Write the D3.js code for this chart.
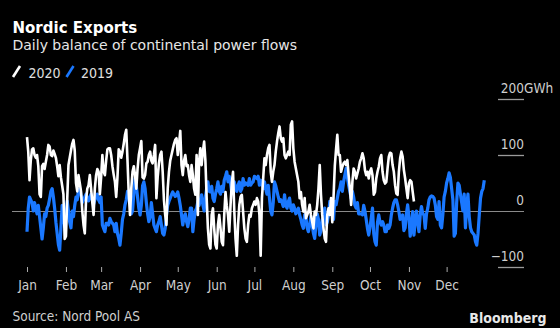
<!DOCTYPE html>
<html><head><meta charset="utf-8">
<script src="https://cdn.jsdelivr.net/npm/d3@7"></script>
<style>
html,body{margin:0;padding:0;background:#000;}
svg{display:block;}
</style></head><body>
<svg id="chart" width="560" height="328"></svg>
<script>
const titleText = "Nordic Exports";
const subtitleText = "Daily balance of continental power flows";
const seriesNames = ["2020", "2019"];
const monthLabels = ["Jan","Feb","Mar","Apr","May","Jun","Jul","Aug","Sep","Oct","Nov","Dec"];
const yTickValues = [-100, 0, 100, 200];
const yUnit = "GWh";
const sourceText = "Source: Nord Pool AS";
const brandText = "Bloomberg";

const values2019 = [
-37,5,25,20,15,0,15,5,-5,10,
-10,-30,-50,-30,-5,-10,5,10,22,35,
40,25,5,-20,-40,-60,-70,-30,10,-5,
-28,-10,18,0,-20,-30,0,-10,10,25,
20,38,40,28,15,20,25,30,22,18,
25,30,20,12,20,25,30,20,15,25,
-25,-31,-37,-22,-22,-25,-13,-19,-22,-25,
-37,-22,-40,-49,-61,-40,-15,-5,11,20,
35,30,23,-5,0,30,58,45,25,5,
-7,10,45,52,40,15,-5,-19,-10,15,
-5,-25,-31,-37,-25,-19,-10,-25,-40,-43,
-31,-7,10,17,23,29,34,30,26,29,
34,23,10,-7,-25,-10,-5,-19,-28,-15,
5,5,-37,-15,0,5,17,10,20,29,
11,0,25,40,52,35,34,44,23,17,
30,40,52,35,30,44,35,55,62,70,
52,62,50,32,40,52,40,35,46,52,
35,40,58,46,50,48,46,58,46,50,
52,62,60,58,62,46,55,50,40,52,
40,30,46,23,0,-7,15,52,45,35,
25,17,20,15,8,29,10,5,17,23,
5,0,11,5,-5,0,5,-7,-15,-25,
-31,-7,-10,-30,-37,-25,-10,-25,-40,-49,
-25,-5,-15,-43,-35,-15,-10,5,-25,-20,
-7,17,10,-5,-15,17,11,23,35,40,
52,35,52,64,76,60,46,35,23,35,
25,10,5,15,-5,-5,-5,-7,10,0,
-15,-31,-43,-30,-13,5,-40,-55,-61,-20,
-7,-20,-25,-19,-25,-37,-37,-25,-31,-25,
-7,5,15,20,20,11,-1,-15,-13,-7,
-35,-30,-5,11,-10,-45,-31,-1,-43,-20,
0,-20,-37,-7,8,-5,-7,-31,-5,5,
20,25,27,26,23,11,-10,-15,17,-25,
-30,-7,25,35,50,58,68,60,40,20,
-45,-40,15,50,46,30,15,0,30,-30,
10,30,-10,-30,-37,-40,-43,-55,-61,-40,
-7,23,35,40,55
];

const values2020 = [
132,106,55,90,110,112,100,95,100,80,
30,25,80,84,75,88,100,118,115,100,
98,108,102,95,80,62,82,60,45,30,
-50,-45,20,82,95,108,120,127,108,50,
35,64,50,35,0,-25,-40,20,40,46,
64,40,15,-7,40,64,75,70,30,60,
100,70,64,90,110,112,112,100,80,65,
52,25,60,110,106,95,106,120,136,145,
90,30,-7,40,70,80,64,40,75,100,
112,125,60,58,64,85,88,100,106,90,
85,100,118,23,60,85,100,106,70,20,
-7,-25,40,70,90,100,110,120,127,130,
100,120,143,82,64,90,100,80,82,64,
52,82,64,40,29,100,-7,90,112,82,
106,124,90,23,-31,-60,-67,-7,5,-31,
-60,-67,-25,-7,-30,-55,-61,-7,34,10,
-7,-37,10,50,70,0,-50,-80,-25,11,
25,29,-1,-31,-49,-55,-25,-7,-10,5,
11,17,11,23,17,-7,-80,23,58,94,
82,100,112,118,70,52,70,82,106,124,
139,151,130,124,130,100,94,100,106,100,
154,160,112,88,76,64,52,23,34,11,
-1,23,-13,-7,-1,11,-7,-19,-31,-1,
-7,11,40,82,29,-7,-31,-49,-55,-7,
5,-7,23,-20,25,80,110,136,100,100,
70,79,85,88,82,91,64,40,11,52,
76,70,58,67,76,88,94,103,94,73,
64,70,58,70,76,64,29,34,58,70,
79,94,100,70,55,49,52,76,97,104,
103,82,70,46,31,29,70,94,106,97,
73,58,40,23,49,55,52,34,17
];

const seriesColors = {"2020": "#ffffff", "2019": "#1a78ff"};
const narrow = "'Liberation Sans Narrow','DejaVu Sans Condensed','Arial Narrow',sans-serif";

const svg = d3.select("#chart");
svg.append("rect").attr("width", 560).attr("height", 328).attr("fill", "#000");

const dayDate = i => d3.timeDay.offset(new Date(2019, 0, 1), i);
const x = d3.scaleTime().domain([new Date(2019, 0, 1), new Date(2019, 11, 31)]).range([27, 484.3]);
const y = d3.scaleLinear().domain([-100, 200]).range([267, 99]);

// Title
svg.append("text").attr("x", 12.5).attr("y", 32.5)
  .attr("font-family", "'DejaVu Sans',sans-serif").attr("font-weight", "bold")
  .attr("font-size", 15).attr("fill", "#fff").text(titleText);
svg.append("text").attr("x", 12.5).attr("y", 50)
  .attr("font-family", "'DejaVu Sans',sans-serif")
  .attr("font-size", 14).attr("fill", "#e6e6e6").text(subtitleText);

// Legend
const legendPos = [{sx: 13, tx: 28.5}, {sx: 66.5, tx: 81}];
seriesNames.forEach((name, i) => {
  const p = legendPos[i];
  svg.append("line").attr("x1", p.sx).attr("y1", 77).attr("x2", p.sx + 7).attr("y2", 66)
    .attr("stroke", seriesColors[name]).attr("stroke-width", 2.6).attr("stroke-linecap", "butt");
  svg.append("text").attr("x", p.tx).attr("y", 77.5)
    .attr("font-family", narrow).attr("font-size", 14).attr("fill", "#e0e0e0").text(name);
});

// Y axis (right-aligned labels above short gridlines)
const yAxisG = svg.append("g").attr("transform", "translate(524,0)")
  .call(d3.axisLeft(y).tickValues(yTickValues).tickSize(0).tickFormat(d3.format("d")));
yAxisG.select(".domain").remove();
yAxisG.selectAll(".tick line")
  .attr("x1", d => d === 0 ? 12 - 524 : -26).attr("x2", 0)
  .attr("stroke", d => d === 0 ? "#8a8a8a" : "#9a9a9a")
  .attr("stroke-width", d => d === 0 ? 1 : 1.3);
yAxisG.selectAll(".tick text")
  .attr("x", 0).attr("dy", 0).attr("y", -7)
  .attr("text-anchor", "end")
  .attr("font-family", narrow).attr("font-size", 13.5).attr("fill", "#cfcfcf");
yAxisG.selectAll(".tick").filter(d => d === 200).append("text")
  .attr("x", 0).attr("y", -7).attr("text-anchor", "start")
  .attr("font-family", narrow).attr("font-size", 13.5).attr("fill", "#cfcfcf").text(yUnit);

// X axis
const monthDates = d3.range(12).map(m => new Date(2019, m, 1));
const xAxisG = svg.append("g").attr("transform", "translate(0,267)")
  .call(d3.axisBottom(x).tickValues(monthDates).tickSize(5).tickFormat((d, i) => monthLabels[i]));
xAxisG.select(".domain").remove();
xAxisG.selectAll(".tick line").attr("stroke", "#aaaaaa").attr("stroke-width", 1);
xAxisG.selectAll(".tick text").attr("y", 23).attr("dy", 0)
  .attr("font-family", narrow).attr("font-size", 13.5).attr("fill", "#cfcfcf");

// Lines: 2019 below, 2020 on top
const line = d3.line().x((d, i) => x(dayDate(i))).y(d => y(d));
svg.append("path").datum(values2019).attr("d", line)
  .attr("fill", "none").attr("stroke", seriesColors["2019"]).attr("stroke-width", 3.2)
  .attr("stroke-linejoin", "round");
svg.append("path").datum(values2020).attr("d", line)
  .attr("fill", "none").attr("stroke", seriesColors["2020"]).attr("stroke-width", 2.6)
  .attr("stroke-linejoin", "round");

// Footer
svg.append("text").attr("x", 12.5).attr("y", 320.5)
  .attr("font-family", narrow).attr("font-size", 13.5).attr("fill", "#cfcfcf").text(sourceText);
svg.append("text").attr("x", 546.5).attr("y", 323).attr("text-anchor", "end")
  .attr("font-family", narrow).attr("font-weight", "bold")
  .attr("font-size", 14).attr("fill", "#e8e8e8").text(brandText);
</script>
</body></html>
